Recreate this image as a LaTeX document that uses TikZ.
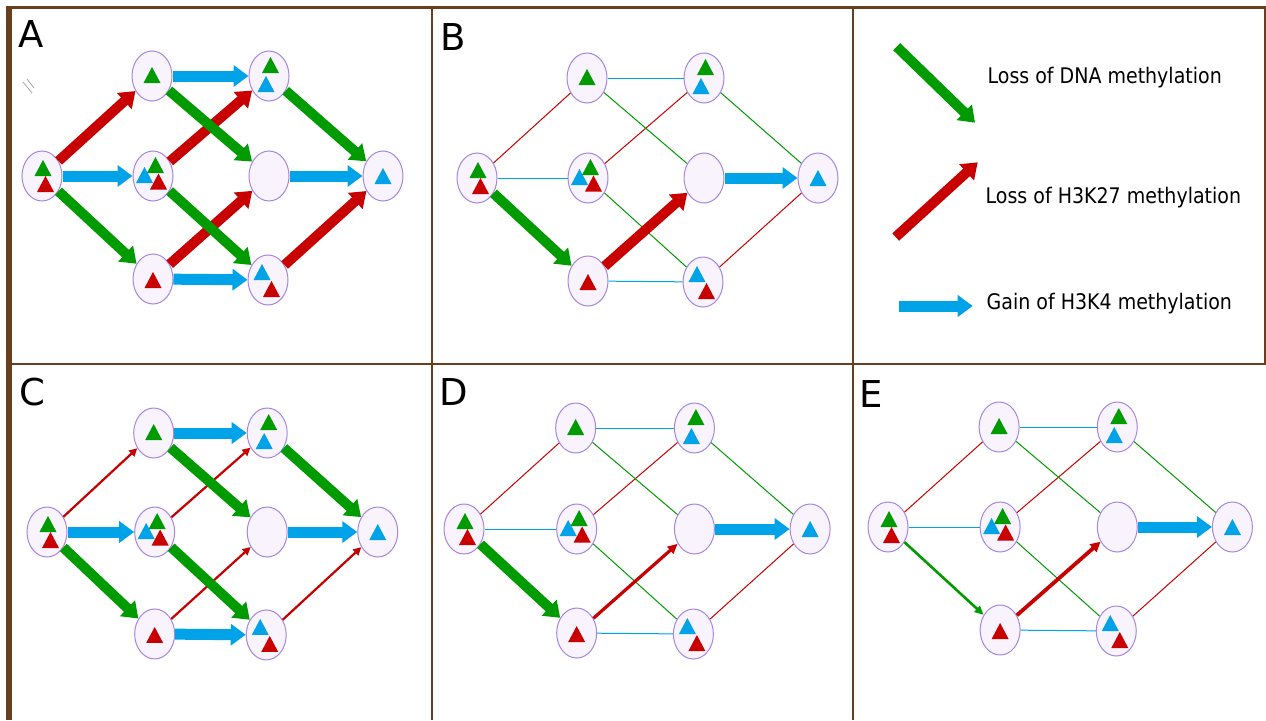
\documentclass[tikz,border=0pt]{standalone}
\usepackage{fontspec}
\setmainfont{DejaVu Sans}
\usetikzlibrary{shapes.geometric,arrows.meta,calc}
\definecolor{gr}{RGB}{0,155,0}
\definecolor{rd}{RGB}{200,0,0}
\definecolor{bl}{RGB}{0,162,232}
\definecolor{brn}{RGB}{105,62,28}
\definecolor{nfill}{RGB}{248,243,252}
\definecolor{ndraw}{RGB}{165,135,225}
\tikzset{
 st/.style={ellipse, draw=ndraw, fill=nfill, line width=1pt, minimum width=40pt, minimum height=50pt, inner sep=0pt},
 fat/.style={line width=10pt, -{Triangle[width=21pt,length=15pt]}},
 fr/.style={fat, draw=rd},
 fg/.style={fat, draw=gr},
 fb/.style={fat, draw=bl, line width=11pt},
 tl/.style={line width=1pt},
 tr/.style={tl, draw=rd},
 tg/.style={tl, draw=gr},
 tb/.style={tl, draw=bl},
 mrtwo/.style={draw=rd, line width=2.2pt, -{Triangle[width=8pt,length=8pt]}},
 mrthree/.style={draw=rd, line width=3.2pt, -{Triangle[width=9pt,length=10pt]}},
 mrfour/.style={draw=rd, line width=3.8pt, -{Triangle[width=10pt,length=10pt]}},
 mgthree/.style={draw=gr, line width=2.6pt, -{Triangle[width=8pt,length=9pt]}},
 frame/.style={draw=brn},
 letter/.style={anchor=base west, inner sep=0pt, font=\fontsize{37}{40}\selectfont},
 legtext/.style={anchor=base west, inner sep=0pt, font=\fontsize{19}{22}\selectfont},
}
\newcommand\mknodes[5]{%
 \node[st] (#1L) at (#2,#3) {};
 \node[st] (#1T1) at ({#2+110*#4},{#3-100*#5}) {};
 \node[st] (#1M1) at ({#2+111*#4},{#3}) {};
 \node[st] (#1B1) at ({#2+111*#4},{#3+103*#5}) {};
 \node[st] (#1T2) at ({#2+227*#4},{#3-100*#5}) {};
 \node[st] (#1M2) at ({#2+227*#4},{#3}) {};
 \node[st] (#1B2) at ({#2+226*#4},{#3+104*#5}) {};
 \node[st] (#1R) at ({#2+341*#4},{#3}) {};
}
\newcommand\tri[4]{\fill[#1] ($(#2)+(#3,#4)$) ++(-8.5,8) -- ++(17,0) -- ++(-8.5,-16) -- cycle;}
\newcommand\paneltris[1]{%
 \tri{gr}{#1L}{1}{-8} \tri{rd}{#1L}{3.5}{8}
 \tri{gr}{#1T1}{0}{-1}
 \tri{bl}{#1M1}{-8.5}{-1} \tri{gr}{#1M1}{2.5}{-11} \tri{rd}{#1M1}{5.5}{5.5}
 \tri{rd}{#1B1}{0}{1}
 \tri{gr}{#1T2}{1.5}{-11} \tri{bl}{#1T2}{-3}{8}
 \tri{bl}{#1B2}{-6}{-8} \tri{rd}{#1B2}{3.5}{9}
 \tri{bl}{#1R}{0}{0}
}
\newcommand\thinnet[1]{%
 \draw[tr] (#1L) -- (#1T1); \draw[tr] (#1M1) -- (#1T2); \draw[tr] (#1B2) -- (#1R);
 \draw[tb] (#1L) -- (#1M1); \draw[tb] (#1T1) -- (#1T2); \draw[tb] (#1B1) -- (#1B2);
 \draw[tg] (#1T1) -- (#1M2); \draw[tg] (#1M1) -- (#1B2); \draw[tg] (#1T2) -- (#1R);
}
\newcommand\tall[1]{\scalebox{1}[1.13]{#1}}
\begin{document}
\begin{tikzpicture}[x=1pt,y=-1pt]
\useasboundingbox (0,0) rectangle (1266,720);
\fill[white] (0,0) rectangle (1266,720);
% frames
\draw[frame, line width=3pt] (6,7.5) -- (1266,7.5);
\draw[frame, line width=2.5pt] (6,364) -- (1266,364);
\draw[frame, line width=5.5pt] (8.75,6) -- (8.75,720);
\draw[frame, line width=2.5pt] (432,6) -- (432,720);
\draw[frame, line width=2.5pt] (853,6) -- (853,720);
\draw[frame, line width=2pt] (1265,6) -- (1265,364);
% letters
\node[letter] (labA) at (18,47) {A};
\node[letter] (labB) at (440,50) {B};
\node[letter] (labC) at (19,405) {C};
\node[letter] (labD) at (439.5,405) {D};
\node[letter] (labE) at (859.5,407) {E};
% small marks
\draw[gray!70, line width=0.8pt] (23,82) -- (32,93) (27,79) -- (34,88);
% nodes
\mknodes{A}{42}{176}{1}{1}
\mknodes{B}{477}{178}{1}{1}
\mknodes{C}{47}{532}{0.97}{0.99}
\mknodes{D}{464}{529}{1.015}{1.01}
\mknodes{E}{888}{527}{1.01}{1.0}
% panel A
\draw[fr] (AL) -- (AT1); \draw[fr] (AM1) -- (AT2); \draw[fr] (AB1) -- (AM2); \draw[fr] (AB2) -- (AR);
\draw[fg] (AL) -- (AB1); \draw[fg] (AT1) -- (AM2); \draw[fg] (AM1) -- (AB2); \draw[fg] (AT2) -- (AR);
\draw[fb] (AL) -- (AM1); \draw[fb] (AT1) -- (AT2); \draw[fb] (AB1) -- (AB2); \draw[fb] (AM2) -- (AR);
% panel B
\thinnet{B}
\draw[fg] (BL) -- (BB1); \draw[fr] (BB1) -- (BM2); \draw[fb] (BM2) -- (BR);
% panel C
\draw[mrtwo] (CL) -- (CT1); \draw[mrtwo] (CM1) -- (CT2); \draw[mrtwo] (CB1) -- (CM2); \draw[mrtwo] (CB2) -- (CR);
\draw[fg] (CL) -- (CB1); \draw[fg] (CT1) -- (CM2); \draw[fg] (CM1) -- (CB2); \draw[fg] (CT2) -- (CR);
\draw[fb] (CL) -- (CM1); \draw[fb] (CT1) -- (CT2); \draw[fb] (CB1) -- (CB2); \draw[fb] (CM2) -- (CR);
% panel D
\thinnet{D}
\draw[fg] (DL) -- (DB1); \draw[mrthree] (DB1) -- (DM2); \draw[fb] (DM2) -- (DR);
% panel E
\thinnet{E}
\draw[mgthree] (EL) -- (EB1); \draw[mrfour] (EB1) -- (EM2); \draw[fb] (EM2) -- (ER);
% triangles
\paneltris{A}
\paneltris{B}
\paneltris{C}
\paneltris{D}
\paneltris{E}
% legend
\coordinate (g1) at (896.7,46.7); \coordinate (g2) at (975,122.7);
\coordinate (r1) at (895.7,237); \coordinate (r2) at (977.7,162.3);
\coordinate (b1) at (899.3,306); \coordinate (b2) at (972.7,306);
\draw[fg] (g1) -- (g2);
\draw[fr] (r1) -- (r2);
\draw[fb] (b1) -- (b2);
\node[legtext] (t1) at (987.4,83.3) {\tall{Loss of DNA methylation}};
\node[legtext] (t2) at (985.5,203) {\tall{Loss of H3K27 methylation}};
\node[legtext] (t3) at (986.5,309.5) {\tall{Gain of H3K4 methylation}};
\end{tikzpicture}
\end{document}
